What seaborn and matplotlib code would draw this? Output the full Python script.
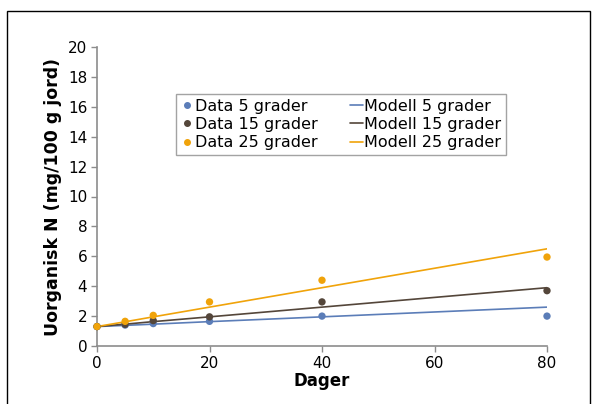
import matplotlib
matplotlib.use("Agg")
import matplotlib.pyplot as plt
import seaborn as sns
import pandas as pd
from matplotlib.patches import Rectangle

# data
dager = [0, 5, 10, 20, 40, 80]
data_5 = [1.3, 1.4, 1.5, 1.65, 2.0, 2.0]
data_15 = [1.3, 1.45, 1.7, 1.95, 2.95, 3.7]
data_25 = [1.3, 1.65, 2.05, 2.95, 4.4, 5.95]
modell_5 = [1.3, 1.38, 1.46, 1.63, 1.95, 2.6]
modell_15 = [1.3, 1.46, 1.63, 1.95, 2.6, 3.9]
modell_25 = [1.3, 1.62, 1.95, 2.6, 3.9, 6.5]
grader = ["5 grader", "15 grader", "25 grader"]
farger = ["#5B7DB8", "#54463A", "#F0A30A"]

rows = []
for g, d, m in zip(grader, [data_5, data_15, data_25], [modell_5, modell_15, modell_25]):
    for x, yd, ym in zip(dager, d, m):
        rows.append({"Dager": x, "Data": yd, "Modell": ym, "grad": g})
df = pd.DataFrame(rows)

sns.set_style("white", {"text.color": "black", "axes.labelcolor": "black",
                        "xtick.color": "black", "ytick.color": "black"})
plt.rcParams['font.family'] = ['DejaVu Sans']

fig = plt.figure(figsize=(5.92, 4.04), dpi=100)
ax = fig.add_axes([97/592, 1-346/404, 450/592, 299/404])

palette = dict(zip(grader, farger))
sns.lineplot(data=df, x="Dager", y="Modell", hue="grad", palette=palette,
             linewidth=1.2, ax=ax, legend=False)
sns.scatterplot(data=df, x="Dager", y="Data", hue="grad", palette=palette,
                s=28, edgecolor="none", ax=ax, legend=False, zorder=3)

ax.set_xlim(0, 80)
ax.set_ylim(0, 20)
ax.set_xticks([0, 20, 40, 60, 80])
ax.set_yticks(range(0, 21, 2))
ax.set_xlabel("Dager", fontsize=12, fontweight="bold", labelpad=1)
ax.set_ylabel("Uorganisk N (mg/100 g jord)", fontsize=12.5, fontweight="bold", labelpad=4)
ax.tick_params(axis="both", labelsize=11, length=4, width=1, color="#8C8C8C",
               labelcolor="black", direction="out", pad=3, left=True, bottom=True)
for s in ["top", "right"]:
    ax.spines[s].set_visible(False)
for s in ["left", "bottom"]:
    ax.spines[s].set_color("#8C8C8C")
    ax.spines[s].set_linewidth(1.2)
for c in ax.collections:
    c.set_clip_on(False)

handles = []
labels = []
for g, c in zip(grader, farger):
    handles.append(plt.Line2D([], [], marker="o", linestyle="none", color=c, markersize=4))
    labels.append("Data " + g)
for g, c in zip(grader, farger):
    handles.append(plt.Line2D([], [], color=c, linewidth=1.2))
    labels.append("Modell " + g)
leg = ax.legend(handles, labels, ncol=2, loc="upper left",
                bbox_to_anchor=(79/450, 1-(94-47)/299), fontsize=11.5,
                frameon=True, fancybox=False, edgecolor="#8C8C8C",
                handlelength=0.8, handletextpad=0.1, columnspacing=2.0,
                labelspacing=0.2, borderpad=0.3, borderaxespad=0)
leg.get_frame().set_linewidth(1.0)
for t in leg.get_texts():
    t.set_color("black")

fig.patches.append(Rectangle((7/592, -0.05), 583/592, 1.05 - 11/404, transform=fig.transFigure,
                             fill=False, edgecolor="black", linewidth=1.0))

fig.savefig("out.png", dpi=100)
